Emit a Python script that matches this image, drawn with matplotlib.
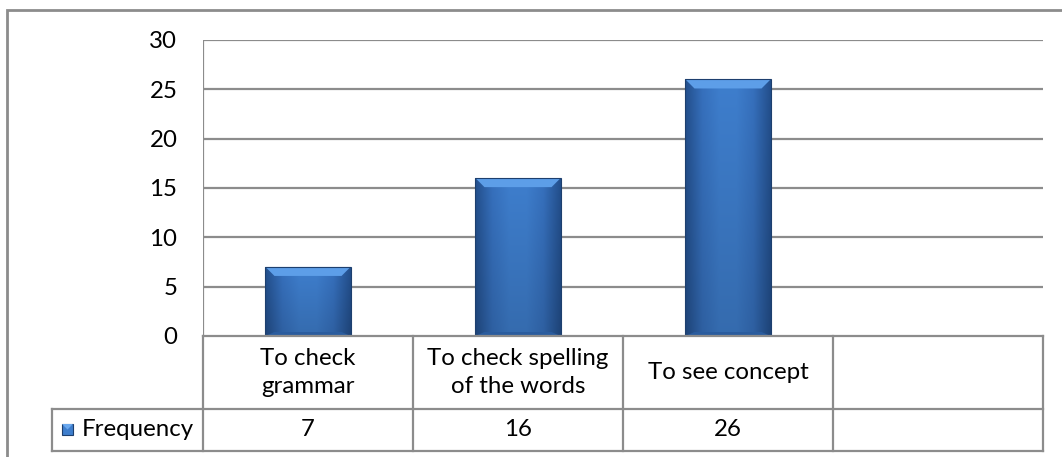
import numpy as np
import matplotlib
matplotlib.use("Agg")
import matplotlib.pyplot as plt
from matplotlib.patches import Rectangle, Polygon
from matplotlib.colors import LinearSegmentedColormap
from matplotlib.lines import Line2D

categories = ["To check\ngrammar", "To check spelling\nof the words", "To see concept", ""]
frequency = [7, 16, 26]
series_name = "Frequency"
y_ticks = [0, 5, 10, 15, 20, 25, 30]

W, H = 1062, 457
fig = plt.figure(figsize=(W / 100, H / 100), dpi=100)
plt.rcParams["font.family"] = ["Lato", "DejaVu Sans"]

GRID = "#8c8c8c"
FS = 17.3

# plot area in pixel coordinates
px_left, px_right, px_top, px_bottom = 203, 1043, 40, 336
ax = fig.add_axes([px_left / W, 1 - px_bottom / H,
                   (px_right - px_left) / W, (px_bottom - px_top) / H])
ax.set_xlim(-0.5, len(categories) - 0.5)
ax.set_ylim(0, 30)
for s in ax.spines.values():
    s.set_visible(False)
ax.set_xticks([])
ax.set_yticks(y_ticks)
ax.set_yticklabels([str(t) for t in y_ticks], fontsize=FS)
ax.tick_params(axis="y", length=0, pad=18.5)
for t in y_ticks[1:]:
    ax.axhline(t, color=GRID, lw=1.6, zorder=1)
ax.axvline(-0.5, color=GRID, lw=1.6, zorder=1, ymax=1.0)

# bevelled bars
bar_w = 0.405
body = LinearSegmentedColormap.from_list(
    "body", ["#234f8c", "#3670bd", "#3e7ecd", "#3e7ecd", "#3670bd", "#234f8c"])
bars = ax.bar(range(len(frequency)), frequency, width=bar_w, color="#3b78c6",
              edgecolor="none", zorder=2)
ppu_y = (px_bottom - px_top) / 30.0
ppu_x = (px_right - px_left) / len(categories)
for b in bars:
    x0, y0 = b.get_x(), b.get_y()
    w, h = b.get_width(), b.get_height()
    grad = np.linspace(0, 1, 200).reshape(1, -1)
    vert = np.linspace(1.0, 0.85, 100).reshape(-1, 1)
    img = body(grad)[0][None, :, :3] * vert[:, :, None]
    im = ax.imshow(img, extent=(x0, x0 + w, y0, y0 + h), aspect="auto",
                   origin="upper", zorder=2.1, interpolation="bilinear")
    im.set_clip_path(b)
    bev_x = 9 / ppu_x
    bev_y = 9 / ppu_y
    top = y0 + h
    ax.add_patch(Polygon([(x0, top), (x0 + w, top), (x0 + w - bev_x, top - bev_y),
                          (x0 + bev_x, top - bev_y)], closed=True,
                         facecolor="#5d9ee8", edgecolor="none", zorder=2.2))
    ax.add_patch(Polygon([(x0, y0), (x0 + w, y0), (x0 + w - bev_x, y0 + 4 / ppu_y),
                          (x0 + bev_x, y0 + 4 / ppu_y)], closed=True,
                         facecolor="#2a5c9e", edgecolor="none", zorder=2.2))
    ax.add_patch(Rectangle((x0, y0), w, h, fill=False, edgecolor="#1d3f6e",
                           lw=0.8, zorder=2.3))

# data table below the plot
def fy(py):
    return (px_bottom - py) / (px_bottom - px_top)

def fx(px):
    return (px - px_left) / ppu_x - 0.5

trans = ax.get_xaxis_transform()
y_head, y_row, y_end = fy(336), fy(409), fy(451)
x_lab = fx(52)
n = len(categories)

def seg(xs, ys, **kw):
    ax.add_line(Line2D(xs, ys, transform=trans, color=GRID, lw=1.6,
                       clip_on=False, zorder=3, **kw))

seg([-0.5, n - 0.5], [y_head, y_head])
seg([x_lab, n - 0.5], [y_row, y_row])
seg([x_lab, n - 0.5], [y_end, y_end])
seg([x_lab, x_lab], [y_row, y_end])
for i in range(n + 1):
    seg([i - 0.5, i - 0.5], [y_head, y_end])

for i, c in enumerate(categories):
    ax.text(i, (y_head + y_row) / 2, c, transform=trans, ha="center",
            va="center", fontsize=FS, linespacing=1.4)
for i, v in enumerate(frequency):
    ax.text(i, (y_row + y_end) / 2, str(v), transform=trans, ha="center",
            va="center", fontsize=FS)

# legend key and series name
kx0, kx1 = fx(62), fx(73)
ky0, ky1 = fy(435), fy(424)
ax.add_patch(Rectangle((kx0, ky0), kx1 - kx0, ky1 - ky0, transform=trans,
                       facecolor="#3e7ecd", edgecolor="#1d3f6e", lw=0.8,
                       clip_on=False, zorder=3))
ax.add_patch(Polygon([(kx0, ky1), (kx1, ky1), ((kx0 + kx1) / 2, (ky0 + ky1) / 2)],
                     closed=True, transform=trans, facecolor="#6aa8ee",
                     edgecolor="none", clip_on=False, zorder=3.1))
ax.text(fx(82), (y_row + y_end) / 2, series_name, transform=trans, ha="left",
        va="center", fontsize=FS)

# chart border
fig.add_artist(Rectangle((7 / W, -0.01), 1.02, 1 - 10 / H + 0.01,
                         transform=fig.transFigure, fill=False,
                         edgecolor=GRID, lw=2.0))

fig.savefig("out.png", dpi=100, facecolor="white")
